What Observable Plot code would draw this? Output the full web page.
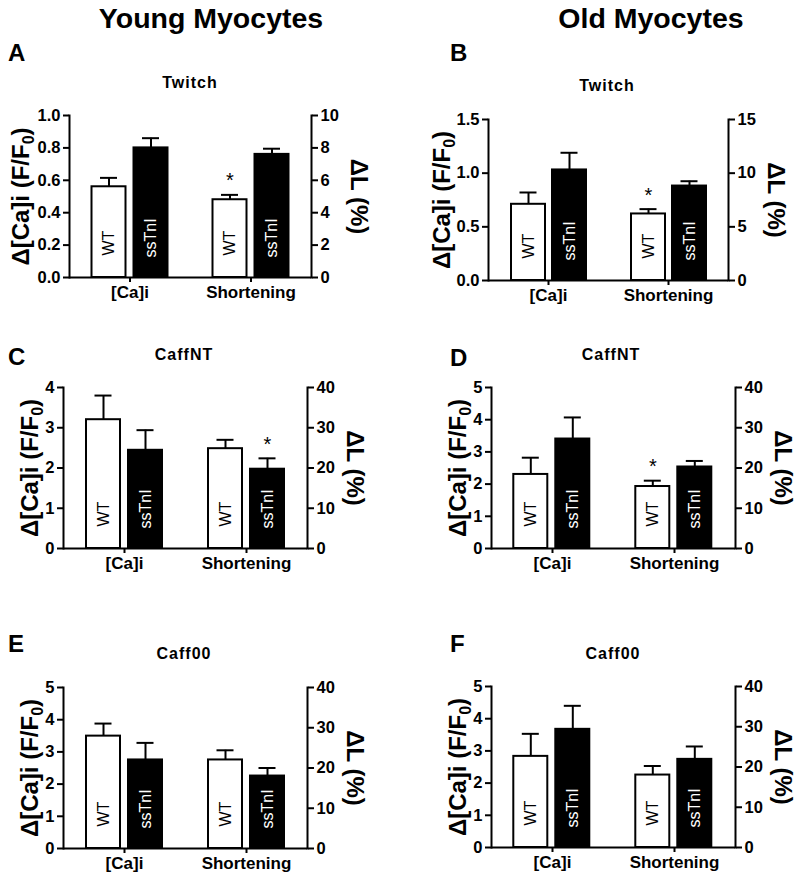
<!DOCTYPE html>
<html><head><meta charset="utf-8">
<script src="https://cdn.jsdelivr.net/npm/d3@7"></script>
<script src="https://cdn.jsdelivr.net/npm/@observablehq/plot@0.6"></script>
<style>
body{margin:0;background:#fff;}
#root{position:relative;width:800px;height:880px;overflow:hidden;font-family:"Liberation Sans",Arial,sans-serif;font-weight:bold;color:#000;}
.t{position:absolute;white-space:nowrap;line-height:1;}
#root svg{position:absolute;overflow:visible;}
</style></head><body><div id="root"></div>
<script>
// ---------- data ----------
const panelIds = ["A","B","C","D","E","F"];
const panelTitles = ["Twitch","Twitch","CaffNT","CaffNT","Caff00","Caff00"];
const columnHeads = ["Young Myocytes","Old Myocytes"];
const categories = ["[Ca]i","Shortening"];
const genotypes = ["WT","ssTnI"];
const leftLabel = "Δ[Ca]i (F/F0)";
const rightLabel = "ΔL (%)";
// [Ca]i, Δ F/F0 (left axis)
const caWT     = [0.56, 0.71, 3.20, 2.30, 3.49, 2.83];
const caWTErr  = [0.055, 0.11, 0.60, 0.52, 0.39, 0.70];
const caSS     = [0.80, 1.03, 2.44, 3.40, 2.75, 3.67];
const caSSErr  = [0.06, 0.16, 0.50, 0.67, 0.53, 0.73];
// Shortening, ΔL % (right axis)
const shWT     = [4.8, 6.2, 24.8, 15.4, 22.0, 18.0];
const shWTErr  = [0.3, 0.45, 2.2, 1.45, 2.4, 2.25];
const shSS     = [7.6, 8.8, 19.7, 20.25, 18.0, 21.9];
const shSSErr  = [0.35, 0.45, 2.7, 1.5, 2.0, 3.2];
const leftTicks  = [[0,0.2,0.4,0.6,0.8,1.0],[0,0.5,1.0,1.5],[0,1,2,3,4],[0,1,2,3,4,5],[0,1,2,3,4,5],[0,1,2,3,4,5]];
const leftDecimals = [1,1,0,0,0,0];
const rightTicks = [[0,2,4,6,8,10],[0,5,10,15],[0,10,20,30,40],[0,10,20,30,40],[0,10,20,30,40],[0,10,20,30,40]];
const starPanels = ["A","B","C","D"];
const starCats   = ["Shortening","Shortening","Shortening","Shortening"];
const starGenos  = ["WT","WT","ssTnI","WT"];

// ---------- layout (styling only) ----------
const FONT = "'Liberation Sans', Arial, Helvetica, sans-serif";
const layout = [
  {left:0,   top:95,  h:212, ml:68.5, mr:89, labelDx:-48},
  {left:400, top:99,  h:211, ml:87,   mr:72, labelDx:-46},
  {left:0,   top:367, h:211, ml:63,   mr:93, labelDx:-33},
  {left:400, top:367, h:211, ml:90.7, mr:65, labelDx:-33},
  {left:0,   top:667, h:211, ml:63,   mr:93, labelDx:-33},
  {left:400, top:666, h:211, ml:90.7, mr:65, labelDx:-33}
];
const letterPos = [[8,61],[450,61],[8,365],[450,366],[8,652],[450,652]];
const titlePos  = [[190,89],[607,92],[184,361],[611,361],[184,660],[613,660]];
const headPos   = [[211,28],[651,28]];

const root = document.getElementById("root");
function addText(str, x, baseline, size, anchor, extra) {
  const d = document.createElement("div");
  d.className = "t";
  d.textContent = str;
  d.style.fontSize = size + "px";
  d.style.left = x + "px";
  d.style.top = (baseline - 0.8465 * size) + "px";
  if (anchor === "middle") d.style.transform = "translateX(-50%)";
  Object.assign(d.style, extra || {});
  root.appendChild(d);
}
columnHeads.forEach((s, i) => addText(s, headPos[i][0], headPos[i][1], 28.5, "middle"));
panelIds.forEach((s, i) => addText(s, letterPos[i][0], letterPos[i][1], 24, "start"));
panelTitles.forEach((s, i) => addText(s, titlePos[i][0], titlePos[i][1], 16, "middle", {letterSpacing: "1px"}));

panelIds.forEach((id, i) => {
  const L = layout[i];
  const leftMax = leftTicks[i][leftTicks[i].length - 1];
  const rightMax = rightTicks[i][rightTicks[i].length - 1];
  const k = rightMax / leftMax; // % per left-axis unit
  const rows = [
    {cat: categories[0], geno: genotypes[0], v: caWT[i], e: caWTErr[i]},
    {cat: categories[0], geno: genotypes[1], v: caSS[i], e: caSSErr[i]},
    {cat: categories[1], geno: genotypes[0], v: shWT[i] / k, e: shWTErr[i] / k},
    {cat: categories[1], geno: genotypes[1], v: shSS[i] / k, e: shSSErr[i] / k}
  ];
  const stars = rows.filter(r => starPanels.some((p, j) => p === id && starCats[j] === r.cat && starGenos[j] === r.geno));
  const svg = Plot.plot({
    width: 400, height: L.h,
    marginLeft: L.ml, marginRight: L.mr, marginTop: 20, marginBottom: 30,
    style: {fontFamily: FONT, fontWeight: "bold", fontSize: "16.5px", color: "black", background: "transparent"},
    fx: {domain: categories, padding: 0, axis: null},
    x: {domain: genotypes, paddingInner: 0.18, paddingOuter: 0.52, axis: null},
    y: {domain: [0, leftMax], axis: null},
    color: {domain: genotypes, range: ["white", "black"]},
    marks: [
      Plot.ruleX(rows, {fx: "cat", x: "geno", y1: d => d.v, y2: d => d.v + d.e, stroke: "black", strokeWidth: 2}),
      Plot.tickY(rows, {fx: "cat", x: "geno", y: d => d.v + d.e, stroke: "black", strokeWidth: 2, insetLeft: 8.5, insetRight: 8.5}),
      Plot.barY(rows, {fx: "cat", x: "geno", y: "v", fill: "geno", stroke: "black", strokeWidth: 2}),
      Plot.text(rows.filter(r => r.geno === genotypes[0]), {fx: "cat", x: "geno", text: "geno", frameAnchor: "bottom", dy: -22, rotate: -90, textAnchor: "start", lineAnchor: "middle", fill: "black", fontSize: 16, fontWeight: "normal"}),
      Plot.text(rows.filter(r => r.geno === genotypes[1]), {fx: "cat", x: "geno", text: "geno", frameAnchor: "bottom", dy: -20, rotate: -90, textAnchor: "start", lineAnchor: "middle", fill: "white", fontSize: 16, fontWeight: "normal"}),
      Plot.text(stars, {fx: "cat", x: "geno", y: d => d.v + d.e, text: () => "*", dy: -14, fontSize: 20, fontWeight: "normal"}),
      Plot.ruleY([0], {stroke: "black", strokeWidth: 2}),
      Plot.frame({anchor: "left", facetAnchor: "left", stroke: "black", strokeWidth: 2}),
      Plot.frame({anchor: "right", facetAnchor: "right", stroke: "black", strokeWidth: 2}),
      Plot.axisY({anchor: "left", ticks: leftTicks[i], tickFormat: d => d.toFixed(leftDecimals[i]), tickSize: 6, tickPadding: 3, strokeWidth: 2, fontSize: 16.5, label: null}),
      Plot.axisY({anchor: "right", ticks: rightTicks[i].map(t => t / k), tickFormat: d => String(Math.round(d * k)), tickSize: 6, tickPadding: 3, strokeWidth: 2, fontSize: 16.5, label: null}),
      Plot.axisFx({anchor: "bottom", tickSize: 5, tickPadding: 3, strokeWidth: 2, fontSize: 17, label: null}),
      Plot.text([leftLabel], {text: d => d, frameAnchor: "left", facetAnchor: "left", dx: L.labelDx, rotate: -90, textAnchor: "middle", lineAnchor: "middle", fontSize: 24, fontWeight: "bold"}),
      Plot.text([rightLabel], {text: d => d, frameAnchor: "right", facetAnchor: "right", dx: 47, rotate: 90, textAnchor: "middle", lineAnchor: "middle", fontSize: 24, fontWeight: "bold"})
    ]
  });
  svg.style.left = L.left + "px";
  svg.style.top = L.top + "px";
  // ensure tick label sizes (force via inline style)
  svg.querySelectorAll("g[aria-label]").forEach(g => {
    const lab = g.getAttribute("aria-label");
    if (/^y-axis tick label/.test(lab)) { g.style.fontSize = "16.5px"; g.querySelectorAll("text").forEach(t => t.style.fontSize = "16.5px"); }
    if (/^fx-axis tick label/.test(lab)) { g.style.fontSize = "17px"; g.querySelectorAll("text").forEach(t => t.style.fontSize = "17px"); }
  });
  // subscript 0 in F/F0
  const ns = "http://www.w3.org/2000/svg";
  svg.querySelectorAll("text").forEach(t => {
    if (t.textContent === leftLabel) {
      t.textContent = "";
      const a = document.createElementNS(ns, "tspan"); a.textContent = "Δ[Ca]i (F/F";
      const b = document.createElementNS(ns, "tspan"); b.textContent = "0"; b.setAttribute("font-size", "16"); b.setAttribute("dy", "5");
      const c = document.createElementNS(ns, "tspan"); c.textContent = ")"; c.setAttribute("dy", "-5");
      t.append(a, b, c);
    }
  });
  root.appendChild(svg);
});
</script></body></html>
